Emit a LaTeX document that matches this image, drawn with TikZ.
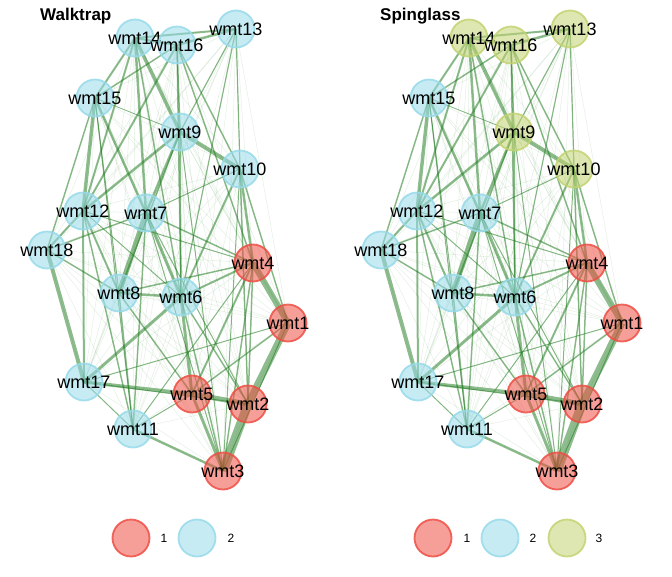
\documentclass[tikz,border=0pt]{standalone}
\usepackage{fontspec}
\setmainfont{Liberation Sans}
\usetikzlibrary{backgrounds}
\definecolor{clred}{HTML}{EE4E44}
\definecolor{clblue}{HTML}{97DAEA}
\definecolor{clgreen}{HTML}{C3D371}
\definecolor{edgegreen}{HTML}{1E7A1E}
\newcommand\vfont{\fontsize{18}{18}\selectfont}
\tikzset{
  vtx/.style={circle, minimum size=37pt, inner sep=0pt, line width=1.8pt, fill opacity=0.55, draw opacity=0.85, text opacity=1},
  cl1/.style={vtx, draw=clred, fill=clred},
  cl2/.style={vtx, draw=clblue, fill=clblue},
  cl3/.style={vtx, draw=clgreen, fill=clgreen},
  vlab/.style={font=\vfont, inner sep=0pt},
  lnk/.style={draw=edgegreen, draw opacity=0.5},
  faint/.style={draw=edgegreen, draw opacity=0.12, line width=0.5pt},
  ttl/.style={font=\fontsize{17}{17}\selectfont\bfseries, anchor=west, inner sep=0pt},
  keylab/.style={font=\fontsize{12}{12}\selectfont, inner sep=0pt},
}
\begin{document}
\begin{tikzpicture}[x=1pt, y=-1pt]
  \useasboundingbox (0,0) rectangle (672,576);
  \node[ttl] (wtitle) at (40,16) {Walktrap};
  \node[ttl] (stitle) at (380,16) {Spinglass};
  \foreach \p/\dx in {W/0,S/334} {
    \begin{scope}[xshift=\dx]
      % vertices: number / x / y / walktrap group / spinglass group
      \foreach \n/\x/\y/\cw/\cs in {1/288/323/1/1, 2/248/404/1/1, 3/223/471/1/1, 4/253/263/1/1,
          5/192/394/1/1, 6/181/297/2/2, 7/146/213/2/2, 8/119/293/2/2, 9/180/132/2/3,
          10/240/169/2/3, 11/133/429/2/2, 12/83/211/2/2, 13/236/29/2/3, 14/135/38/2/3,
          15/95/98/2/2, 16/177/45/2/3, 17/84/382/2/2, 18/47/250/2/2} {
        \ifnum\dx=0 \edef\cc{\cw}\else\edef\cc{\cs}\fi
        \node[cl\cc, label={[vlab]center:wmt\n}] (\p\n) at (\x,\y) {};
      }
      \begin{pgfonlayer}{background}
        \foreach \a in {1,...,17} {
          \foreach \b in {\a,...,18} {
            \ifnum\a<\b \draw[faint] (\p\a.center) -- (\p\b.center);\fi
          }
        }
        \foreach \a/\b/\w in {3/2/9, 2/1/7, 1/4/6, 5/2/5, 17/5/3.5, 18/17/4, 7/8/5, 14/9/3.5,
            9/10/4, 15/12/3.5, 12/17/2, 5/3/3, 6/5/3, 7/6/3, 6/17/3, 4/10/2.5, 11/3/2.5,
            14/7/2.5, 15/7/2.5, 12/9/2.5, 13/16/2.5, 13/14/2, 14/16/2, 16/12/2, 7/9/2.5,
            12/8/2, 18/12/2, 8/6/2.5, 6/4/2, 11/12/1.5, 10/6/2, 4/5/2, 1/5/1.5, 17/1/1,
            17/2/1, 11/8/1.5, 11/7/1.5, 8/4/1.5, 8/5/1.5, 18/8/1.5, 18/7/1.5, 14/15/2,
            14/12/2, 16/15/1.5, 16/9/1.5, 13/9/1.2, 13/10/1.2, 13/6/1.2, 16/10/1.5,
            16/4/1.5, 16/6/1.5, 14/6/1.5, 9/6/1.5, 9/8/1.5, 9/3/1, 10/1/1.5, 10/2/1.5,
            10/3/1, 4/2/1.5, 4/3/1.5, 1/3/1, 6/2/1.5, 6/3/1.5, 7/3/1, 7/2/1, 12/6/1,
            12/4/1, 15/8/1, 15/11/1, 17/11/1, 18/15/1.5, 11/5/1, 11/4/1, 7/10/1,
            15/9/0.8, 4/7/1.5}
          \draw[lnk, line width=\w] (\p\a.center) -- (\p\b.center);
      \end{pgfonlayer}
    \end{scope}
  }
  % legends
  \foreach \g/\x/\lx in {1/131/164, 2/197/231} {
    \node[cl\g, minimum size=37pt] (wkey\g) at (\x,538) {};
    \node[keylab] (wkeylab\g) at (\lx,538) {\g};
  }
  \foreach \g/\x/\lx in {1/433/467, 2/500/533, 3/567/599} {
    \node[cl\g, minimum size=37pt] (skey\g) at (\x,538) {};
    \node[keylab] (skeylab\g) at (\lx,538) {\g};
  }
\end{tikzpicture}
\end{document}
